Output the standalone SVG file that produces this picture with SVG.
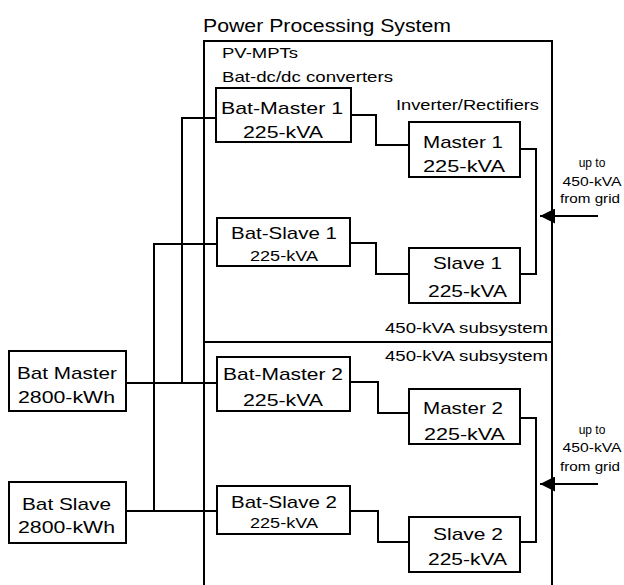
<svg xmlns="http://www.w3.org/2000/svg" width="624" height="585" viewBox="0 0 624 585">
<defs>
<style>
text{font-family:"Liberation Sans",Arial,sans-serif;fill:#000}
.box{fill:#fff;stroke:#000;stroke-width:2}
.w{fill:none;stroke:#000;stroke-width:2}
.t17{font-size:17px}
.t15{font-size:15px}
.t12{font-size:12px}
</style>
<marker id="ah" viewBox="0 0 10 10" refX="10" refY="5" markerWidth="22" markerHeight="15" markerUnits="userSpaceOnUse" orient="auto"><path d="M0,0 L10,5 L0,10 Z" fill="#000"/></marker>
</defs>
<rect width="624" height="585" fill="#fff"/>
<g id="system">
<text x="203" y="32" font-size="18" textLength="248" lengthAdjust="spacingAndGlyphs">Power Processing System</text>
<path class="w" d="M204,585 V41 H552 V585 M204,342 H552"/>
<text class="t15" x="222" y="58" textLength="76" lengthAdjust="spacingAndGlyphs">PV-MPTs</text>
<text class="t15" x="222" y="82" textLength="171" lengthAdjust="spacingAndGlyphs">Bat-dc/dc converters</text>
<text class="t15" x="396" y="110" textLength="143" lengthAdjust="spacingAndGlyphs">Inverter/Rectifiers</text>
<text class="t15" x="385" y="333" textLength="163" lengthAdjust="spacingAndGlyphs">450-kVA subsystem</text>
<text class="t15" x="385" y="361" textLength="163" lengthAdjust="spacingAndGlyphs">450-kVA subsystem</text>
</g>
<g id="connectors">
<path class="w" d="M126,383 H216 M126,511 H216 M154,511 V244 H216 M182,383 V118 H216"/>
<path class="w" d="M351,115 H376 V145 H409 M350,243 H376 V274 H409 M350,382 H378 V413 H409 M350,511 H378 V542 H409"/>
<path class="w" d="M520,149 H536 V274 H520 M520,418 H536 V542 H520"/>
<line class="w" x1="598" y1="216" x2="540" y2="216" marker-end="url(#ah)"/>
<line class="w" x1="598" y1="484" x2="540" y2="484" marker-end="url(#ah)"/>
<g class="t12" text-anchor="middle">
<text x="592" y="167">up to</text>
<text x="592" y="186" textLength="59" lengthAdjust="spacingAndGlyphs">450-kVA</text>
<text x="590" y="203" textLength="60" lengthAdjust="spacingAndGlyphs">from grid</text>
<text x="592" y="434">up to</text>
<text x="592" y="452" textLength="59" lengthAdjust="spacingAndGlyphs">450-kVA</text>
<text x="590" y="471" textLength="60" lengthAdjust="spacingAndGlyphs">from grid</text>
</g>
</g>
<g id="bat-master">
<rect class="box" x="9" y="351" width="117" height="60"/>
<text class="t17" x="17" y="379" textLength="100" lengthAdjust="spacingAndGlyphs">Bat Master</text>
<text class="t17" x="18" y="403" textLength="97" lengthAdjust="spacingAndGlyphs">2800-kWh</text>
</g>
<g id="bat-slave">
<rect class="box" x="9" y="482" width="117" height="61"/>
<text class="t17" x="22" y="510" textLength="89" lengthAdjust="spacingAndGlyphs">Bat Slave</text>
<text class="t17" x="18" y="533" textLength="97" lengthAdjust="spacingAndGlyphs">2800-kWh</text>
</g>
<g id="bat-master-1">
<rect class="box" x="216" y="88" width="135" height="54"/>
<text class="t17" x="221" y="114" textLength="122" lengthAdjust="spacingAndGlyphs">Bat-Master 1</text>
<text class="t17" x="243" y="138" textLength="80" lengthAdjust="spacingAndGlyphs">225-kVA</text>
</g>
<g id="bat-slave-1">
<rect class="box" x="217" y="218" width="133" height="48"/>
<text class="t17" x="231" y="239" textLength="106" lengthAdjust="spacingAndGlyphs">Bat-Slave 1</text>
<text class="t15" x="250" y="261" textLength="68" lengthAdjust="spacingAndGlyphs">225-kVA</text>
</g>
<g id="bat-master-2">
<rect class="box" x="217" y="357" width="133" height="54"/>
<text class="t17" x="223" y="380" textLength="120" lengthAdjust="spacingAndGlyphs">Bat-Master 2</text>
<text class="t17" x="243" y="406" textLength="80" lengthAdjust="spacingAndGlyphs">225-kVA</text>
</g>
<g id="bat-slave-2">
<rect class="box" x="217" y="486" width="133" height="48"/>
<text class="t17" x="231" y="508" textLength="106" lengthAdjust="spacingAndGlyphs">Bat-Slave 2</text>
<text class="t15" x="250" y="528" textLength="68" lengthAdjust="spacingAndGlyphs">225-kVA</text>
</g>
<g id="master-1">
<rect class="box" x="409" y="122" width="111" height="55"/>
<text class="t17" x="423" y="148" textLength="80" lengthAdjust="spacingAndGlyphs">Master 1</text>
<text class="t17" x="423" y="172" textLength="82" lengthAdjust="spacingAndGlyphs">225-kVA</text>
</g>
<g id="slave-1">
<rect class="box" x="409" y="248" width="111" height="55"/>
<text class="t17" x="433" y="269" textLength="69" lengthAdjust="spacingAndGlyphs">Slave 1</text>
<text class="t17" x="428" y="297" textLength="79" lengthAdjust="spacingAndGlyphs">225-kVA</text>
</g>
<g id="master-2">
<rect class="box" x="409" y="389" width="111" height="55"/>
<text class="t17" x="423" y="414" textLength="80" lengthAdjust="spacingAndGlyphs">Master 2</text>
<text class="t17" x="424" y="440" textLength="81" lengthAdjust="spacingAndGlyphs">225-kVA</text>
</g>
<g id="slave-2">
<rect class="box" x="409" y="517" width="111" height="55"/>
<text class="t17" x="433" y="540" textLength="70" lengthAdjust="spacingAndGlyphs">Slave 2</text>
<text class="t17" x="428" y="565" textLength="79" lengthAdjust="spacingAndGlyphs">225-kVA</text>
</g>
</svg>
